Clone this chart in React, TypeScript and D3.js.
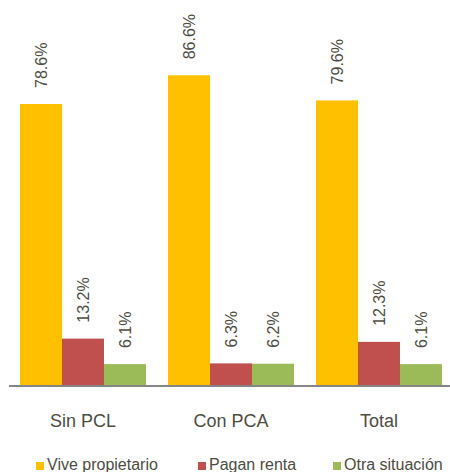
import * as d3 from "d3";
import React from "react";

const categories = ["Sin PCL", "Con PCA", "Total"];
const seriesNames = ["Vive propietario", "Pagan renta", "Otra situación"];
const viveValues = [78.6, 86.6, 79.6];
const pagaValues = [13.2, 6.3, 12.3];
const otraValues = [6.1, 6.2, 6.1];
const colors = ["#FFC000", "#C0504D", "#9BBB59"];

const App = () => {
  const width = 450;
  const height = 472;
  const baseY = 386;
  const textColor = "#4d4d3f";
  const font = "'Liberation Sans', Arial, sans-serif";

  const allSeries = [viveValues, pagaValues, otraValues];

  const x0 = d3.scaleBand<string>()
    .domain(categories)
    .range([9, 453])
    .paddingInner(22 / 148)
    .paddingOuter(11 / 148);

  const x1 = d3.scaleBand<string>()
    .domain(seriesNames)
    .range([0, x0.bandwidth()]);

  const y = d3.scaleLinear()
    .domain([0, 100])
    .range([baseY, baseY - 358.8]);

  // legend positions
  const legendX = [36, 198, 333];

  return (
    <svg width={width} height={height} style={{ position: "absolute", left: 0, top: 0 }}>
      <rect width={width} height={height} fill="#ffffff" />
      {categories.map((cat, ci) => (
        <g key={cat} transform={`translate(${x0(cat)},0)`}>
          {seriesNames.map((s, si) => {
            const v = allSeries[si][ci];
            const bx = x1(s) as number;
            const top = y(v);
            const cx = bx + x1.bandwidth() / 2;
            return (
              <g key={s}>
                <rect x={bx} y={top} width={x1.bandwidth()} height={baseY - top} fill={colors[si]} />
                <text
                  transform={`translate(${cx},${top - 16}) rotate(-90)`}
                  dy="0.35em"
                  textAnchor="start"
                  fontFamily={font}
                  fontSize={16}
                  fill={textColor}
                >
                  {v.toFixed(1) + "%"}
                </text>
              </g>
            );
          })}
          <text
            x={x0.bandwidth() / 2}
            y={427}
            textAnchor="middle"
            fontFamily={font}
            fontSize={18}
            fill={textColor}
          >
            {cat}
          </text>
        </g>
      ))}
      <line x1={9} x2={450} y1={baseY} y2={baseY} stroke="#868686" strokeWidth={2} />
      {seriesNames.map((s, i) => (
        <g key={s}>
          <rect x={legendX[i]} y={462} width={8} height={8} fill={colors[i]} />
          <text x={legendX[i] + 11} y={470} fontFamily={font} fontSize={16} fill={textColor}>
            {s}
          </text>
        </g>
      ))}
    </svg>
  );
};

export default App;
